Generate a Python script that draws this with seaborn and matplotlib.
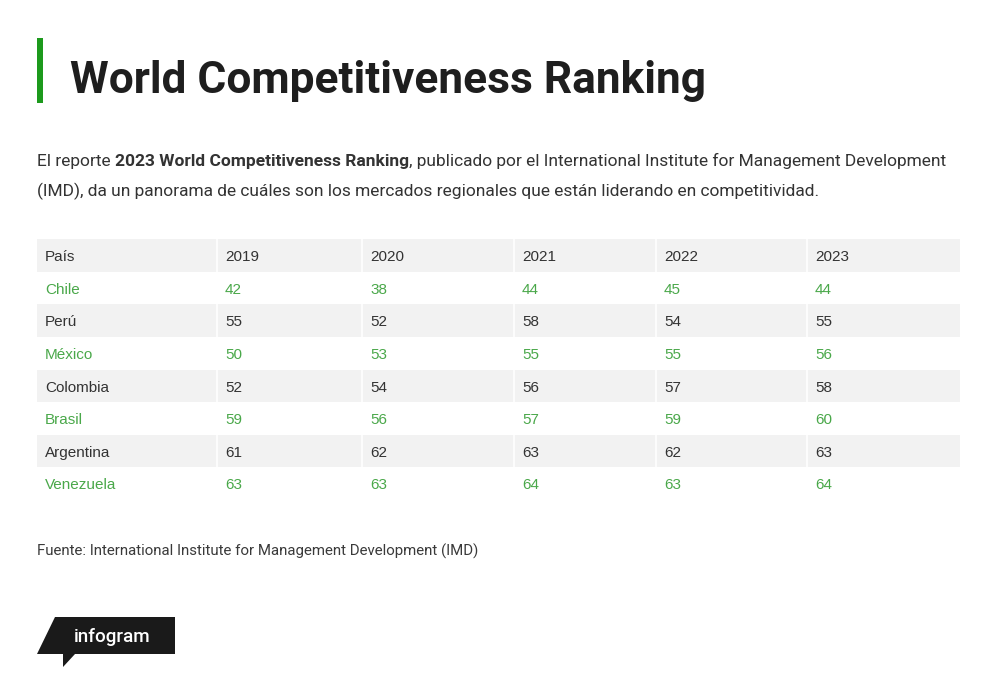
import numpy as np
import pandas as pd
import seaborn as sns
import matplotlib
matplotlib.use("Agg")
import matplotlib.pyplot as plt
from matplotlib.colors import ListedColormap
from matplotlib.patches import Polygon, Rectangle

# ---------------- data ----------------
countries = ["Chile", "Perú", "México", "Colombia", "Brasil", "Argentina", "Venezuela"]
years = ["2019", "2020", "2021", "2022", "2023"]
rank_2019 = [42, 55, 50, 52, 59, 61, 63]
rank_2020 = [38, 52, 53, 54, 56, 62, 63]
rank_2021 = [44, 58, 55, 56, 57, 63, 64]
rank_2022 = [45, 54, 55, 57, 59, 62, 63]
rank_2023 = [44, 55, 56, 58, 60, 63, 64]
first_header = "País"

title = "World Competitiveness Ranking"
sub_pre = "El reporte"
sub_bold = "2023 World Competitiveness Ranking"
sub_post = ", publicado por el International Institute for Management Development"
sub_line2 = "(IMD), da un panorama de cuáles son los mercados regionales que están liderando en competitividad."
source = "Fuente: International Institute for Management Development (IMD)"
logo_text = "infogram"

df = pd.DataFrame({first_header: countries,
                   years[0]: rank_2019, years[1]: rank_2020, years[2]: rank_2021,
                   years[3]: rank_2022, years[4]: rank_2023})

# ---------------- style ----------------
sns.set_theme(style="white")
plt.rcParams["font.family"] = ["Roboto", "DejaVu Sans"]

W, H = 1000, 686
fig = plt.figure(figsize=(W / 100, H / 100), dpi=100)
fig.patch.set_facecolor("white")

page = fig.add_axes([0, 0, 1, 1])
page.set_xlim(0, W)
page.set_ylim(H, 0)
page.axis("off")

renderer = fig.canvas.get_renderer()

def width_of(t):
    return t.get_window_extent(renderer).width

def fit(t, target_w):
    t.set_fontsize(t.get_fontsize() * target_w / width_of(t))
    return t

GREEN_BAR = "#1d9a1d"
GREEN_TXT = "#4aa84a"
DARK = "#333333"
GREY_ROW = "#f2f2f2"

# accent bar + title
page.add_patch(Rectangle((37, 38), 6, 65, color=GREEN_BAR, lw=0))
t = page.text(70, 93, title, fontsize=30, fontweight="bold", color="#1e1e1e",
              va="baseline", ha="left")
fit(t, 635)

# subtitle with bold fragment, fitted to the reference line width
pieces = [(sub_pre, "normal"), (sub_bold, "bold"), (sub_post, "normal")]

def layout_line(fs, draw):
    sp = page.text(0, 0, "a a", fontsize=fs)
    sp2 = page.text(0, 0, "aa", fontsize=fs)
    space_w = width_of(sp) - width_of(sp2)
    sp.remove(); sp2.remove()
    xs = 37
    objs = []
    for i, (s, wgt) in enumerate(pieces):
        o = page.text(xs, 166, s, fontsize=fs, fontweight=wgt, color=DARK,
                      va="baseline", ha="left")
        xs += width_of(o)
        if i == 0:
            xs += space_w
        objs.append(o)
    if not draw:
        for o in objs:
            o.remove()
    return xs - 37

fs0 = 11.5
w0 = layout_line(fs0, False)
fs = fs0 * 918 / w0
layout_line(fs, True)
page.text(37, 196, sub_line2, fontsize=fs, color=DARK, va="baseline", ha="left")

# ---------------- table ----------------
col_widths = [180, 145, 152, 142, 151, 153]
tbl_left, tbl_top, tbl_bottom = 37, 239, 500
x_edges = np.concatenate([[0], np.cumsum(col_widths)])
n_rows = len(countries) + 1
tax = fig.add_axes([tbl_left / W, 1 - tbl_bottom / H, x_edges[-1] / W,
                    (tbl_bottom - tbl_top) / H])
tax.set_xlim(0, x_edges[-1])
tax.set_ylim(n_rows, 0)
tax.axis("off")

stripe = np.array([[1 if r % 2 == 0 else 0] * len(col_widths) for r in range(n_rows)])
tax.pcolormesh(x_edges, np.arange(n_rows + 1), stripe,
               cmap=ListedColormap(["white", GREY_ROW]), vmin=0, vmax=1,
               edgecolors="none", linewidth=0)
tax.vlines(x_edges[1:-1], 0, n_rows, color="white", lw=1.2)

header = [first_header] + years
cell_font = ["Liberation Sans", "DejaVu Sans"]
for j, h in enumerate(header):
    tax.text(x_edges[j] + 8, 0.5 + 0.178, h, fontsize=11, color=DARK,
             family=cell_font, va="baseline", ha="left")
for i, row in df.iterrows():
    r = i + 1
    col = GREEN_TXT if r % 2 == 1 else DARK
    vals = [row[first_header]] + [str(row[y]) for y in years]
    for j, v in enumerate(vals):
        tax.text(x_edges[j] + 8, r + 0.5 + 0.178, v, fontsize=11, color=col,
                 family=cell_font, va="baseline", ha="left")

# ---------------- source ----------------
s = page.text(37, 556, source, fontsize=10.5, color="#3a3a3a", va="baseline", ha="left")
fit(s, 446)

# ---------------- logo ----------------
logo = Polygon([(55, 617), (175, 617), (175, 654), (75, 654), (63, 667),
                (63, 654), (37, 654)], closed=True, color="#1a1a1a", lw=0)
page.add_patch(logo)
lt = page.text(74, 642, logo_text, fontsize=14, fontweight="medium", color="white",
               va="baseline", ha="left")
fit(lt, 77)

fig.savefig("out.png", dpi=100, facecolor="white")
